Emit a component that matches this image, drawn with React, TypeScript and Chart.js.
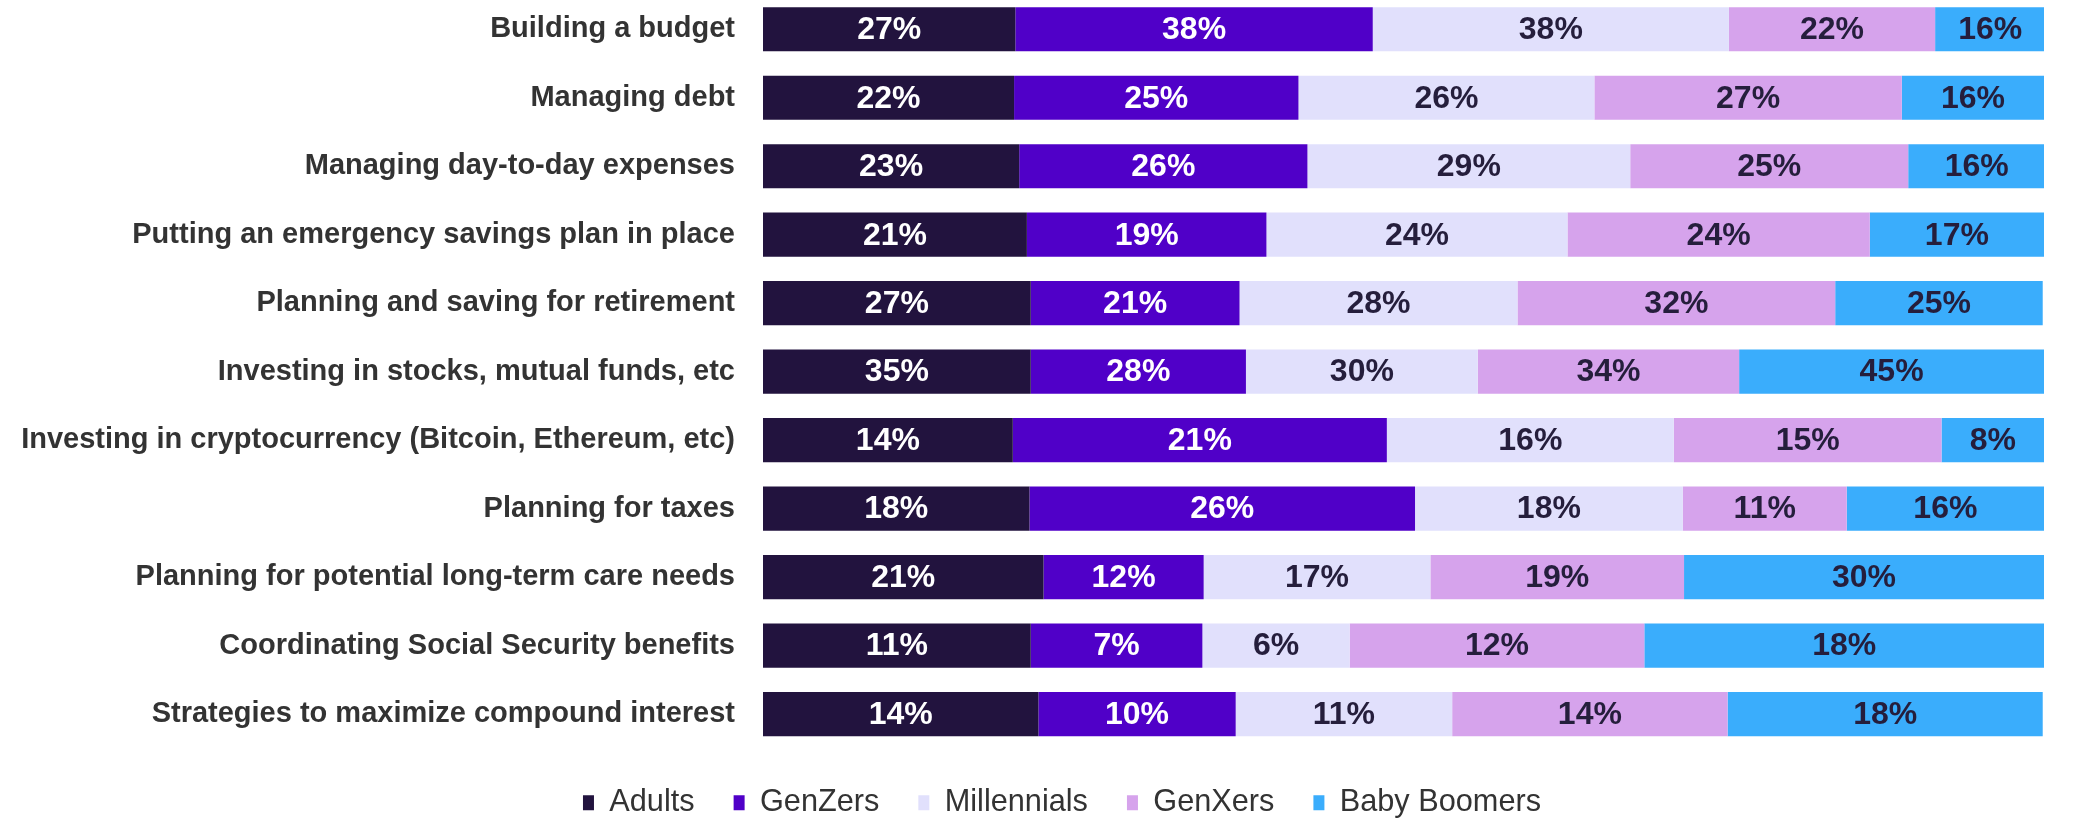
import React, { useEffect, useRef } from 'react';
import { Chart, registerables } from 'chart.js';

Chart.register(...registerables);

const FONT = 'Arial, "Liberation Sans", Helvetica, sans-serif';

const categories = [
  'Building a budget',
  'Managing debt',
  'Managing day-to-day expenses',
  'Putting an emergency savings plan in place',
  'Planning and saving for retirement',
  'Investing in stocks, mutual funds, etc',
  'Investing in cryptocurrency (Bitcoin, Ethereum, etc)',
  'Planning for taxes',
  'Planning for potential long-term care needs',
  'Coordinating Social Security benefits',
  'Strategies to maximize compound interest',
];

const seriesNames = ['Adults', 'GenZers', 'Millennials', 'GenXers', 'Baby Boomers'];
const seriesColors = ['#22133E', '#5000C8', '#E1E0FC', '#D6A3EC', '#3AADFC'];
const labelColors = ['#FFFFFF', '#FFFFFF', '#251E3C', '#251E3C', '#251E3C'];

// Printed percentages (text in each segment)
const adultsLabels = [27, 22, 23, 21, 27, 35, 14, 18, 21, 11, 14];
const genZLabels = [38, 25, 26, 19, 21, 28, 21, 26, 12, 7, 10];
const millennialsLabels = [38, 26, 29, 24, 28, 30, 16, 18, 17, 6, 11];
const genXLabels = [22, 27, 25, 24, 32, 34, 15, 11, 19, 12, 14];
const boomersLabels = [16, 16, 16, 17, 25, 45, 8, 16, 30, 18, 18];

// Segment widths as share of each row (%)
const adultsShare = [19.7, 19.6, 20.0, 20.6, 20.9, 20.9, 19.5, 20.8, 21.9, 20.9, 21.5];
const genZShare = [27.9, 22.2, 22.5, 18.7, 16.3, 16.8, 29.2, 30.1, 12.5, 13.4, 15.4];
const millennialsShare = [27.8, 23.1, 25.2, 23.5, 21.7, 18.1, 22.4, 20.9, 17.7, 11.5, 16.9];
const genXShare = [16.1, 24.0, 21.7, 23.6, 24.8, 20.4, 20.9, 12.8, 19.8, 23.0, 21.5];
const boomersShare = [8.6, 11.1, 10.7, 13.6, 16.2, 23.8, 8.0, 15.4, 28.1, 31.2, 24.6];

const shares = [adultsShare, genZShare, millennialsShare, genXShare, boomersShare];
const printed = [adultsLabels, genZLabels, millennialsLabels, genXLabels, boomersLabels];

const W = 2073;
const H = 833;

const segLabelPlugin = {
  id: 'segLabels',
  afterLayout(chart: any) {
    const lg = chart.legend;
    if (lg) {
      lg.left += 40;
      lg.right += 40;
    }
  },
  afterDatasetsDraw(chart: any) {
    const ctx = chart.ctx;
    ctx.save();
    ctx.font = `bold 32px ${FONT}`;
    ctx.textAlign = 'center';
    ctx.textBaseline = 'middle';
    chart.data.datasets.forEach((_ds: any, i: number) => {
      const meta = chart.getDatasetMeta(i);
      meta.data.forEach((el: any, j: number) => {
        const p = el.getProps(['x', 'y', 'base'], true);
        ctx.fillStyle = labelColors[i];
        ctx.fillText(`${printed[i][j]}%`, (p.x + p.base) / 2, p.y + 1);
      });
    });
    ctx.restore();
  },
};

export default function App() {
  const ref = useRef<HTMLCanvasElement | null>(null);

  useEffect(() => {
    if (!ref.current) return;
    const chart = new Chart(ref.current, {
      type: 'bar',
      data: {
        labels: categories,
        datasets: seriesNames.map((name, i) => ({
          label: name,
          data: shares[i],
          backgroundColor: seriesColors[i],
          borderWidth: 0,
          barPercentage: 0.6445,
          categoryPercentage: 1,
        })),
      },
      options: {
        indexAxis: 'y',
        responsive: false,
        animation: false,
        layout: { padding: { left: 0, right: 29, top: 0, bottom: 0 } },
        scales: {
          x: { stacked: true, min: 0, max: 100, display: false },
          y: {
            stacked: true,
            grid: { display: false, drawTicks: false },
            border: { display: false },
            ticks: {
              autoSkip: false,
              padding: 28,
              color: '#333333',
              font: { family: FONT, size: 29, weight: 'bold' },
            },
            afterFit: (s: any) => {
              s.width = 763;
              s.paddingTop = 0;
              s.paddingBottom = 0;
            },
          },
        },
        plugins: {
          legend: {
            position: 'bottom',
            labels: {
              boxWidth: 11,
              boxHeight: 15,
              padding: 39,
              color: '#333333',
              font: { family: FONT, size: 30.7 },
            },
          },
          tooltip: { enabled: false },
        },
      } as any,
      plugins: [segLabelPlugin],
    });
    return () => chart.destroy();
  }, []);

  return (
    <div style={{ position: 'fixed', left: 0, top: -5, width: W, height: H }}>
      <canvas ref={ref} width={W} height={H} style={{ width: W, height: H, display: 'block' }} />
    </div>
  );
}
